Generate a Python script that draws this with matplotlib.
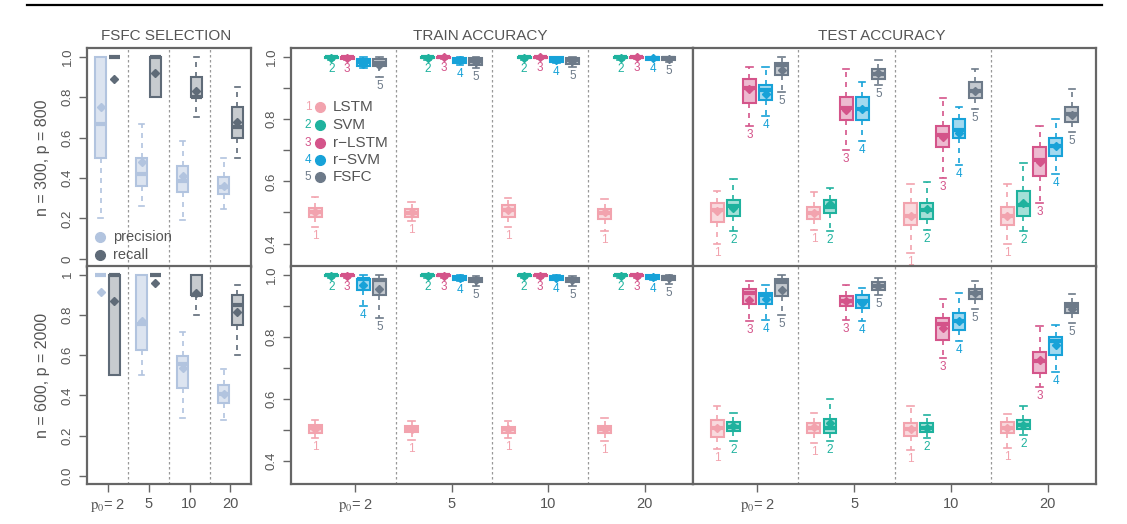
import matplotlib
matplotlib.use("Agg")
import matplotlib.pyplot as plt
from matplotlib.colors import to_rgba
from matplotlib.lines import Line2D

plt.rcParams['font.family'] = ['Liberation Sans', 'DejaVu Sans']
plt.rcParams['mathtext.fontset'] = 'stix'

W, H = 1127, 524

p0_labels = [r"$\mathrm{p}_{0}$= 2", "5", "10", "20"]
models = ["LSTM", "SVM", "r\u2212LSTM", "r\u2212SVM", "FSFC"]
model_colors = ["#F2A3AE", "#1FB29E", "#D4548A", "#17A2D8", "#6D7A89"]
sel_names = ["precision", "recall"]
sel_colors = ["#B2C4DF", "#5F6B78"]
row_labels = ["n = 300, p = 800", "n = 600, p = 2000"]

# every box: (lower whisker, q1, median, q3, upper whisker, mean)
# FSFC selection, per p0 group: [precision, recall]
sel_300 = [
    [(0.20, 0.50, 0.667, 1.00, 1.00, 0.753), (1.0, 1.0, 1.0, 1.0, 1.0, 0.889)],
    [(0.26, 0.363, 0.418, 0.50, 0.665, 0.479), (0.80, 0.80, 1.0, 1.0, 1.0, 0.919)],
    [(0.192, 0.33, 0.383, 0.459, 0.582, 0.41), (0.70, 0.80, 0.80, 0.90, 1.0, 0.828)],
    [(0.247, 0.322, 0.355, 0.405, 0.50, 0.36), (0.50, 0.60, 0.65, 0.75, 0.85, 0.675)],
]
sel_600 = [
    [(1.0, 1.0, 1.0, 1.0, 1.0, 0.916), (0.50, 0.50, 1.0, 1.0, 1.0, 0.869)],
    [(0.50, 0.625, 0.755, 1.0, 1.0, 0.769), (1.0, 1.0, 1.0, 1.0, 1.0, 0.959)],
    [(0.289, 0.435, 0.557, 0.598, 0.716, 0.537), (0.80, 0.90, 0.90, 1.0, 1.0, 0.909)],
    [(0.278, 0.36, 0.405, 0.45, 0.532, 0.405), (0.60, 0.749, 0.851, 0.90, 0.95, 0.813)],
]

# accuracy, per p0 group: [LSTM, SVM, r-LSTM, r-SVM, FSFC]
train_300 = [
    [(0.452, 0.486, 0.50, 0.515, 0.549, 0.50), (0.99, 0.995, 0.998, 1.0, 1.0, 0.997),
     (0.99, 0.994, 0.998, 1.0, 1.0, 0.996), (0.965, 0.97, 0.983, 0.994, 1.0, 0.978),
     (0.935, 0.97, 0.98, 0.994, 1.0, 0.972)],
    [(0.472, 0.486, 0.499, 0.51, 0.535, 0.50), (0.99, 0.996, 0.998, 1.0, 1.0, 0.997),
     (0.992, 0.996, 0.999, 1.0, 1.0, 0.998), (0.975, 0.981, 0.989, 0.997, 1.0, 0.988),
     (0.965, 0.973, 0.986, 0.995, 1.0, 0.984)],
    [(0.452, 0.484, 0.508, 0.524, 0.545, 0.507), (0.99, 0.996, 0.998, 1.0, 1.0, 0.997),
     (0.992, 0.996, 0.999, 1.0, 1.0, 0.998), (0.98, 0.984, 0.991, 0.999, 1.0, 0.991),
     (0.968, 0.978, 0.988, 0.997, 1.0, 0.987)],
    [(0.44, 0.478, 0.497, 0.51, 0.543, 0.50), (0.99, 0.996, 0.998, 1.0, 1.0, 0.997),
     (0.992, 0.996, 0.999, 1.0, 1.0, 0.998), (0.989, 0.991, 0.996, 1.0, 1.0, 0.996),
     (0.984, 0.989, 0.995, 0.999, 1.0, 0.994)],
]
train_600 = [
    [(0.472, 0.491, 0.504, 0.515, 0.531, 0.503), (0.99, 0.996, 0.998, 1.0, 1.0, 0.997),
     (0.99, 0.995, 0.998, 1.0, 1.0, 0.997), (0.90, 0.952, 0.985, 0.987, 1.0, 0.966),
     (0.861, 0.936, 0.984, 0.987, 1.0, 0.955)],
    [(0.468, 0.493, 0.502, 0.512, 0.529, 0.502), (0.99, 0.996, 0.998, 1.0, 1.0, 0.997),
     (0.99, 0.995, 0.998, 1.0, 1.0, 0.997), (0.979, 0.982, 0.989, 0.995, 1.0, 0.988),
     (0.963, 0.975, 0.984, 0.989, 0.997, 0.982)],
    [(0.472, 0.491, 0.502, 0.51, 0.529, 0.501), (0.99, 0.996, 0.998, 1.0, 1.0, 0.997),
     (0.99, 0.995, 0.998, 1.0, 1.0, 0.997), (0.982, 0.984, 0.989, 0.995, 1.0, 0.989),
     (0.965, 0.975, 0.982, 0.989, 0.997, 0.982)],
    [(0.464, 0.491, 0.502, 0.512, 0.537, 0.502), (0.99, 0.996, 0.998, 1.0, 1.0, 0.997),
     (0.99, 0.995, 0.998, 1.0, 1.0, 0.997), (0.984, 0.987, 0.992, 0.998, 1.0, 0.992),
     (0.971, 0.984, 0.991, 0.997, 1.0, 0.99)],
]
test_300 = [
    [(0.40, 0.47, 0.508, 0.529, 0.569, 0.505), (0.441, 0.488, 0.521, 0.54, 0.608, 0.513),
     (0.779, 0.85, 0.90, 0.929, 0.968, 0.895), (0.81, 0.86, 0.892, 0.909, 0.968, 0.879),
     (0.886, 0.94, 0.975, 0.981, 0.999, 0.957)],
    [(0.443, 0.478, 0.499, 0.518, 0.567, 0.499), (0.441, 0.499, 0.516, 0.54, 0.58, 0.527),
     (0.699, 0.798, 0.836, 0.87, 0.959, 0.83), (0.731, 0.798, 0.832, 0.87, 0.919, 0.832),
     (0.908, 0.929, 0.943, 0.959, 0.988, 0.948)],
    [(0.37, 0.459, 0.489, 0.529, 0.59, 0.489), (0.445, 0.479, 0.508, 0.529, 0.597, 0.511),
     (0.61, 0.71, 0.75, 0.779, 0.868, 0.742), (0.651, 0.739, 0.766, 0.80, 0.838, 0.755),
     (0.832, 0.868, 0.891, 0.919, 0.959, 0.891)],
    [(0.40, 0.459, 0.489, 0.518, 0.59, 0.489), (0.441, 0.488, 0.524, 0.57, 0.658, 0.531),
     (0.531, 0.618, 0.669, 0.71, 0.779, 0.661), (0.624, 0.68, 0.712, 0.739, 0.80, 0.712),
     (0.757, 0.789, 0.817, 0.839, 0.897, 0.812)],
]
test_600 = [
    [(0.437, 0.475, 0.504, 0.532, 0.577, 0.504), (0.464, 0.496, 0.51, 0.525, 0.555, 0.512),
     (0.85, 0.906, 0.941, 0.954, 0.979, 0.918), (0.855, 0.906, 0.933, 0.941, 0.966, 0.92),
     (0.871, 0.93, 0.975, 0.986, 1.0, 0.95)],
    [(0.456, 0.491, 0.507, 0.523, 0.555, 0.509), (0.464, 0.491, 0.507, 0.536, 0.60, 0.523),
     (0.855, 0.90, 0.914, 0.93, 0.966, 0.914), (0.85, 0.893, 0.914, 0.936, 0.957, 0.909),
     (0.936, 0.952, 0.965, 0.975, 0.989, 0.965)],
    [(0.434, 0.48, 0.502, 0.521, 0.577, 0.502), (0.473, 0.494, 0.507, 0.521, 0.547, 0.507),
     (0.73, 0.789, 0.842, 0.861, 0.92, 0.829), (0.786, 0.823, 0.852, 0.877, 0.941, 0.85),
     (0.888, 0.923, 0.941, 0.955, 0.981, 0.941)],
    [(0.441, 0.491, 0.507, 0.525, 0.552, 0.507), (0.482, 0.502, 0.516, 0.531, 0.577, 0.516),
     (0.639, 0.684, 0.721, 0.751, 0.834, 0.724), (0.686, 0.74, 0.786, 0.80, 0.839, 0.772),
     (0.843, 0.875, 0.898, 0.909, 0.939, 0.888)],
]
# box numbers that are not printed in the original: (panel, group, model)
hidden_numbers = {("train_300", 0, 3)}

TEXT = "#555555"
SPINE = "#666666"


def px_axes(fig, x0, y0, x1, y1):
    return fig.add_axes([x0 / W, 1 - y1 / H, (x1 - x0) / W, (y1 - y0) / H])


def style_axes(ax):
    for s in ax.spines.values():
        s.set_color(SPINE)
        s.set_linewidth(1.6)
    ax.tick_params(direction="out", length=6, width=1, colors=SPINE,
                   labelcolor=TEXT, labelsize=9.5)


def to_stats(t):
    lo, q1, med, q3, hi, mean = t
    return dict(whislo=lo, q1=q1, med=med, q3=q3, whishi=hi, mean=mean, fliers=[])


def draw_boxes(ax, stats, positions, color, fill_alpha=0.4, lw=1.5):
    ax.bxp([to_stats(s) for s in stats], positions=positions, widths=0.8,
           patch_artist=True, showmeans=True, showfliers=False, capwidths=0.4,
           boxprops=dict(facecolor=to_rgba(color, fill_alpha), edgecolor=color, linewidth=lw),
           medianprops=dict(color=color, linewidth=3, solid_capstyle="butt"),
           whiskerprops=dict(color=color, linewidth=1.2, linestyle=(0, (3, 3))),
           capprops=dict(color=color, linewidth=1.2),
           meanprops=dict(marker="D", markersize=4.5, markerfacecolor=color,
                          markeredgecolor=color))


fig = plt.figure(figsize=(W / 100, H / 100), dpi=100)

rows = [(48, 267), (266, 484)]
sel_data = [sel_300, sel_600]
train_data = [("train_300", train_300), ("train_600", train_600)]
test_data = [("test_300", test_300), ("test_600", test_600)]

for r, (y0, y1) in enumerate(rows):
    bottom = r == 1

    # FSFC selection
    ax = px_axes(fig, 87, y0, 251, y1)
    style_axes(ax)
    for k in range(2):
        stats = [g[k] for g in sel_data[r]]
        pos = [g * 3 + 1 + k for g in range(4)]
        alpha = 0.45 if k == 0 else 0.35
        draw_boxes(ax, stats, pos, sel_colors[k], fill_alpha=alpha)
    for x in [3, 6, 9]:
        ax.axvline(x, color="#999999", ls=(0, (2, 2)), lw=0.9, zorder=0)
    ax.set_xlim(0, 12)
    ax.set_ylim(-0.04, 1.043)
    yt = [0, 0.2, 0.4, 0.6, 0.8, 1.0]
    ylab = ["0", "0.2", "0.4", "0.6", "0.8", "1.0"] if r == 0 else \
        ["0.0", "0.2", "0.4", "0.6", "0.8", "1"]
    ax.set_yticks(yt, ylab, rotation=90, va="center")
    if bottom:
        ax.set_xticks([g * 3 + 1.5 for g in range(4)], p0_labels, fontsize=10.5)
    else:
        ax.set_xticks([])
        for k, name in enumerate(sel_names):
            yy = [0.137, 0.055][k]
            ax.plot([0.079], [yy], "o", color=sel_colors[k], ms=7,
                    transform=ax.transAxes, clip_on=False)
            ax.text(0.16, yy, name, transform=ax.transAxes, va="center",
                    fontsize=10.5, color=TEXT)

    # train / test accuracy
    for c, (x0, x1) in enumerate([(291, 693), (693, 1096)]):
        name, data = (train_data if c == 0 else test_data)[r]
        ax = px_axes(fig, x0, y0, x1, y1)
        style_axes(ax)
        for m in range(5):
            stats = [g[m] for g in data]
            pos = [g * 6 + 1 + m for g in range(4)]
            draw_boxes(ax, stats, pos, model_colors[m])
            for g in range(4):
                if (name, g, m) in hidden_numbers:
                    continue
                ax.annotate(str(m + 1), (pos[g], stats[g][0]), xytext=(0, -9),
                            textcoords="offset pixels", ha="center", va="center",
                            fontsize=8.5, color=model_colors[m])
        for x in [6, 12, 18]:
            ax.axvline(x, color="#999999", ls=(0, (2, 2)), lw=0.9, zorder=0)
        ax.set_xlim(-0.5, 24.5)
        ax.set_ylim(0.325, 1.028)
        if c == 0:
            ax.set_yticks([0.4, 0.5, 0.6, 0.7, 0.8, 0.9, 1.0],
                          ["0.4", "", "0.6", "", "0.8", "", "1.0"],
                          rotation=90, va="center")
        else:
            ax.set_yticks([])
        if bottom:
            ax.set_xticks([g * 6 + 3.5 for g in range(4)], p0_labels, fontsize=10.5)
        else:
            ax.set_xticks([])
        if name == "train_300":
            ys = [0.731, 0.648, 0.566, 0.489, 0.411]
            for m in range(5):
                ax.text(0.042, ys[m], str(m + 1), transform=ax.transAxes,
                        ha="center", va="center", fontsize=8.5, color=model_colors[m])
                ax.plot([0.072], [ys[m]], "o", color=model_colors[m], ms=7,
                        transform=ax.transAxes, clip_on=False)
                ax.text(0.104, ys[m], models[m], transform=ax.transAxes,
                        va="center", fontsize=11, color=TEXT)

    fig.text(42 / W, 1 - (y0 + y1) / 2 / H, row_labels[r], rotation=90,
             ha="center", va="center", fontsize=11.5, color=TEXT)

for title, xc in [("FSFC SELECTION", 166), ("TRAIN ACCURACY", 480), ("TEST ACCURACY", 882)]:
    fig.text(xc / W, 1 - 36 / H, title, ha="center", va="center",
             fontsize=11, color=TEXT)

fig.add_artist(Line2D([27 / W, 1102 / W], [1 - 5 / H, 1 - 5 / H], color="black", lw=1.6))

fig.savefig("out.png", dpi=100)
